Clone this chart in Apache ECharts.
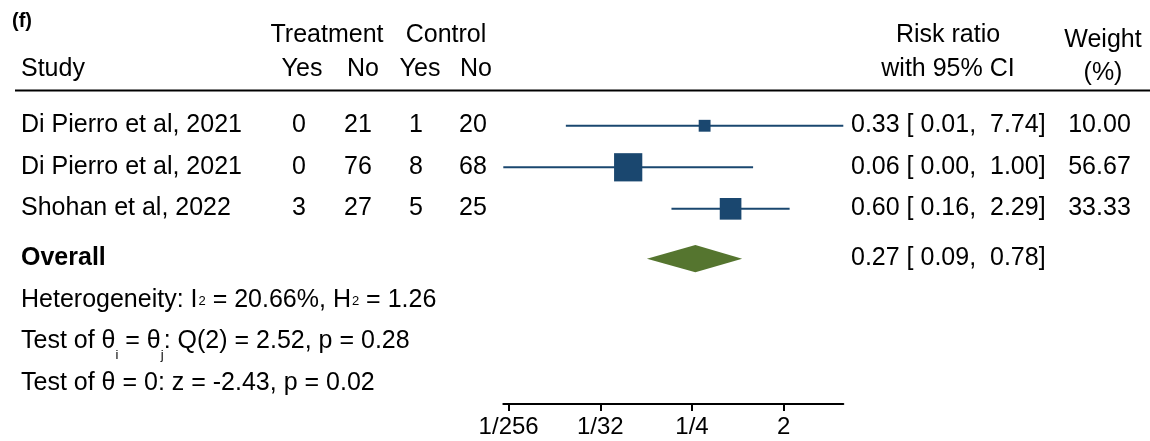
<!DOCTYPE html>
<html><head><meta charset="utf-8">
<script src="https://cdn.jsdelivr.net/npm/echarts@6/dist/echarts.min.js"></script>
<style>html,body{margin:0;padding:0;background:#fff}#c{width:1150px;height:441px}</style>
</head><body><div id="c"></div>
<script>
// ---- data ----
const panelLabel = '(f)';
const studies = ['Di Pierro et al, 2021', 'Di Pierro et al, 2021', 'Shohan et al, 2022'];
const treatYes = [0, 0, 3];
const treatNo = [21, 76, 27];
const ctrlYes = [1, 8, 5];
const ctrlNo = [20, 68, 25];
const riskRatio = [0.333, 0.0588, 0.600];
const ciLow = [0.0143, 0.00346, 0.157];
const ciHigh = [7.74, 1.00, 2.29];
const weights = [10.00, 56.67, 33.33];
const overallLabel = 'Overall';
const overallEst = [0.27, 0.09, 0.78]; // estimate, low, high
const heterogeneity = [20.66, 1.26];   // I2 (%), H2
const qTest = [2, 2.52, 0.28];          // df, Q, p
const zTest = [-2.43, 0.02];            // z, p
const tickValues = [1/256, 1/32, 1/4, 2];
const tickLabels = ['1/256', '1/32', '1/4', '2'];

// ---- layout / style ----
const FONT = '"Liberation Sans", Arial, Helvetica, sans-serif';
const FS = 25;
const NAVY = '#1a476f';
const GREEN = '#55752f';
const OVERALL_ROW = 3.2;
const STAT_ROWS = [4.2, 5.2, 6.2];

const chart = echarts.init(document.getElementById('c'), null, {renderer: 'canvas'});

const xMin = Math.min(...ciLow);
const xMax = Math.max(...ciHigh);

const studyData = studies.map((s, i) => [i, ciLow[i], riskRatio[i], ciHigh[i], weights[i]]);

chart.setOption({
  animation: false,
  backgroundColor: '#fff',
  grid: {left: 503.3, width: 340, top: 105, height: 299, containLabel: false},
  xAxis: {
    type: 'log', logBase: 2, min: xMin, max: xMax, position: 'bottom',
    axisLine: {show: true, onZero: false, lineStyle: {color: '#000', width: 2}},
    axisTick: {show: true, customValues: tickValues, length: 7, lineStyle: {color: '#000', width: 2}},
    axisLabel: {
      show: true, customValues: tickValues, margin: 11, fontSize: 24, color: '#000', fontFamily: FONT,
      formatter: v => {
        let best = 0;
        tickValues.forEach((t, k) => { if (Math.abs(Math.log(t) - Math.log(v)) < Math.abs(Math.log(tickValues[best]) - Math.log(v))) best = k; });
        return tickLabels[best];
      }
    },
    splitLine: {show: false}
  },
  yAxis: {type: 'value', inverse: true, min: -0.5, max: 6.7, show: false},
  series: [
    {
      type: 'custom',
      data: studyData,
      encode: {x: [1, 2, 3], y: 0},
      renderItem: (params, api) => {
        const row = api.value(0);
        const p1 = api.coord([api.value(1), row]);
        const pc = api.coord([api.value(2), row]);
        const p2 = api.coord([api.value(3), row]);
        const s = 3.75 * Math.sqrt(api.value(4));
        return {
          type: 'group',
          children: [
            {type: 'line', shape: {x1: p1[0], y1: p1[1], x2: p2[0], y2: p2[1]}, style: {stroke: NAVY, lineWidth: 2}},
            {type: 'rect', shape: {x: pc[0] - s / 2, y: pc[1] - s / 2, width: s, height: s}, style: {fill: NAVY}}
          ]
        };
      }
    },
    {
      type: 'custom',
      data: [[OVERALL_ROW, overallEst[1], overallEst[0], overallEst[2]]],
      encode: {x: [1, 2, 3], y: 0},
      renderItem: (params, api) => {
        const row = api.value(0);
        const pl = api.coord([api.value(1), row]);
        const pc = api.coord([api.value(2), row]);
        const ph = api.coord([api.value(3), row]);
        const h = 13.6;
        return {
          type: 'polygon',
          shape: {points: [[pl[0], pl[1]], [pc[0], pc[1] - h], [ph[0], ph[1]], [pc[0], pc[1] + h]]},
          style: {fill: GREEN}
        };
      }
    }
  ]
});

const rowY = v => chart.convertToPixel({yAxisIndex: 0}, v) - 0.5;
const g = [];
function txt(x, y, text, opt = {}) {
  g.push({
    type: 'text', x: x, y: y, silent: true,
    style: Object.assign({text: text, fontSize: FS, fontFamily: FONT, fill: '#000', align: 'left', verticalAlign: 'middle'}, opt)
  });
}
// headers
txt(12, 21, panelLabel, {fontSize: 20, fontWeight: 'bold'});
txt(327, 35, 'Treatment', {align: 'center'});
txt(446, 35, 'Control', {align: 'center'});
txt(21, 69, 'Study');
txt(302, 69, 'Yes', {align: 'center'});
txt(363, 69, 'No', {align: 'center'});
txt(420, 69, 'Yes', {align: 'center'});
txt(476, 69, 'No', {align: 'center'});
txt(948, 35, 'Risk ratio', {align: 'center'});
txt(948, 69, 'with 95% CI', {align: 'center'});
txt(1103, 40, 'Weight', {align: 'center'});
txt(1103, 73.5, '(%)', {align: 'center'});
g.push({type: 'line', silent: true, shape: {x1: 15, y1: 90.5, x2: 1150, y2: 90.5}, style: {stroke: '#000', lineWidth: 2}});

const f2 = v => v.toFixed(2);
const ciStr = (e, l, h) => f2(e) + ' [' + f2(l).padStart(5, ' ') + ', ' + f2(h).padStart(5, ' ') + ']';
studies.forEach((s, i) => {
  const y = rowY(i);
  txt(21, y, s);
  txt(299, y, String(treatYes[i]), {align: 'center'});
  txt(358, y, String(treatNo[i]), {align: 'center'});
  txt(416, y, String(ctrlYes[i]), {align: 'center'});
  txt(473, y, String(ctrlNo[i]), {align: 'center'});
  txt(851, y, ciStr(riskRatio[i], ciLow[i], ciHigh[i]));
  txt(1099.5, y, f2(weights[i]), {align: 'center'});
});
const yo = rowY(OVERALL_ROW);
txt(21, yo, overallLabel, {fontWeight: 'bold'});
txt(851, yo, ciStr(overallEst[0], overallEst[1], overallEst[2]));

// stats
txt(21, rowY(STAT_ROWS[0]),
  'Heterogeneity: I{sup|2} = ' + heterogeneity[0].toFixed(2) + '%, H{sup|2} = ' + heterogeneity[1].toFixed(2),
  {rich: {sup: {fontSize: 13, fontFamily: FONT, fill: '#000', padding: [4, 0, 0, 1]}}});
txt(21, rowY(STAT_ROWS[1]),
  'Test of \u03b8{sub|i} = \u03b8{sub|j}: Q(' + qTest[0] + ') = ' + qTest[1].toFixed(2) + ', p = ' + qTest[2].toFixed(2),
  {rich: {sub: {fontSize: 13, fontFamily: FONT, fill: '#000', padding: [28, 0, 0, 0]}}});
txt(21, rowY(STAT_ROWS[2]), 'Test of \u03b8 = 0: z = ' + zTest[0].toFixed(2) + ', p = ' + zTest[1].toFixed(2));

chart.setOption({graphic: g});
</script></body></html>
